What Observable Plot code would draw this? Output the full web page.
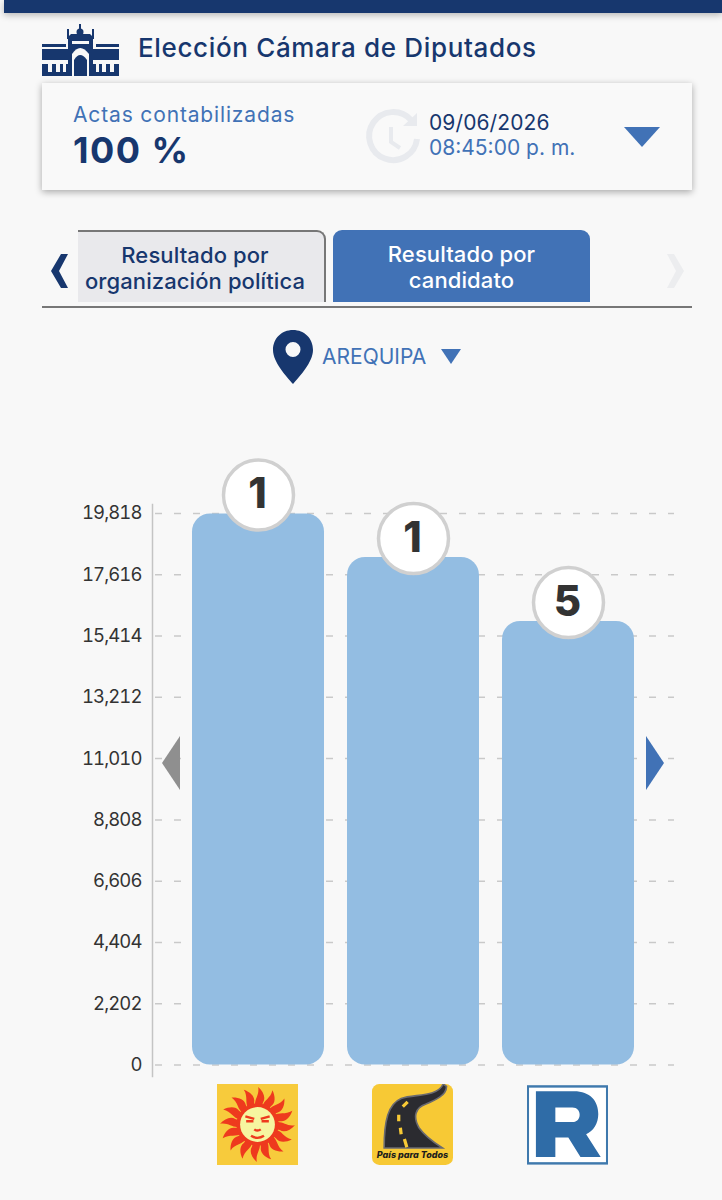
<!DOCTYPE html>
<html lang="es">
<head>
<meta charset="utf-8">
<script src="https://cdn.jsdelivr.net/npm/d3@7"></script>
<script src="https://cdn.jsdelivr.net/npm/@observablehq/plot@0.6"></script>
<style>
html,body{margin:0;padding:0;background:#f8f8f8;}
body{width:722px;height:1200px;position:relative;overflow:hidden;font-family:Inter,"Noto Sans",sans-serif;}
.abs{position:absolute;}
#topbar{left:4px;top:0;width:718px;height:13px;background:#17376e;box-shadow:0 2px 7px rgba(0,0,0,.28);}
#title{left:138px;top:32px;font-size:26px;font-weight:500;color:#17376e;white-space:nowrap;line-height:32px;letter-spacing:.65px;}
#card{left:42px;top:83px;width:650px;height:107px;background:#f9f9f9;box-shadow:0 2px 7px rgba(0,0,0,.33);}
.t{position:absolute;white-space:nowrap;}
.tab{position:absolute;top:230px;height:72px;box-sizing:border-box;text-align:center;font-size:22px;font-weight:500;line-height:26px;padding-top:11px;letter-spacing:.1px;}
#tab1{left:78px;width:248px;background:#e9e9ec;color:#17376e;border-top:2px solid #777;border-right:2px solid #777;border-top-right-radius:9px;padding-top:10px;padding-right:12px;white-space:nowrap;}
#tab2{left:333px;width:257px;background:#4172b6;color:#fff;border-top-left-radius:9px;border-top-right-radius:9px;}
#divider{left:42px;top:306px;width:650px;height:2px;background:#777;}
#chart{left:0;top:440px;}
#chart svg{overflow:visible;display:block;}
#chart g[aria-label="y-axis tick label"] text{letter-spacing:-.9px;}
svg.abs{overflow:visible;}
</style>
</head>
<body>
<div id="topbar" class="abs"></div>
<svg class="abs" style="left:42px;top:24px" width="78" height="52" viewBox="0 0 78 52" fill="#17376e">
  <rect x="0" y="40" width="77" height="12"/><rect x="0" y="25" width="77" height="12"/>
  <rect x="0" y="20" width="24" height="3"/><rect x="54" y="20" width="23" height="3"/>
  <path d="M25 14 L29 10 H48 L52 14Z"/><rect x="37" y="0" width="2" height="7"/><circle cx="38" cy="8" r="3.500"/>
  <rect x="25" y="5" width="2" height="10"/><rect x="50" y="5" width="2" height="10"/>
  <path d="M26 52 V14 H51 V52Z"/>
  <rect x="30" y="17" width="17" height="3" fill="#f8f8f8"/>
  <path d="M30 52 V30 Q38 18 47 30 V52Z" fill="#f8f8f8"/>
  <path d="M32 52 V36 Q38 26 45 36 V52Z"/>
  <g fill="#f8f8f8"><rect x="6" y="39" width="4" height="9"/><rect x="14" y="39" width="4" height="9"/><rect x="21" y="39" width="3" height="9"/><rect x="54" y="39" width="3" height="9"/><rect x="60" y="39" width="4" height="9"/><rect x="68" y="39" width="4" height="9"/><rect x="0" y="36" width="26" height="2"/><rect x="51" y="36" width="26" height="2"/></g>
</svg>
<div id="title" class="abs">Elección Cámara de Diputados</div>
<div id="card" class="abs">
  <div class="t" style="left:31px;top:21px;font-size:21px;color:#4172b6;line-height:22px;letter-spacing:.85px">Actas contabilizadas</div>
  <div class="t" style="left:31px;top:47.500px;font-size:36px;font-weight:700;color:#17376e;line-height:38px;letter-spacing:1.500px">100 %</div>
  <svg class="abs" style="left:325px;top:26px" width="54" height="56" viewBox="0 0 54 56" fill="none" stroke="#e8eaee" stroke-width="6">
    <path d="M44 11 A24 24 0 1 0 50 30"/><path d="M24 18 V33 L33 39" stroke-width="4"/><path d="M36 17 L50 4 V17Z" fill="#e8eaee" stroke="none"/>
  </svg>
  <div class="t" style="left:387px;top:29px;font-size:21px;color:#17376e;line-height:22px;letter-spacing:.1px">09/06/2026</div>
  <div class="t" style="left:387px;top:54px;font-size:21px;color:#4172b6;line-height:22px">08:45:00 p. m.</div>
  <svg class="abs" style="left:582px;top:44px" width="36" height="20"><path d="M0 0H36L18 20Z" fill="#4172b6"/></svg>
</div>
<svg class="abs" style="left:50px;top:254px" width="20" height="34"><path d="M18 0H11L1 17L11 34H18L9 17Z" fill="#17376e"/></svg>
<div id="tab1" class="tab">Resultado por<br>organización política</div>
<div id="tab2" class="tab">Resultado por<br>candidato</div>
<svg class="abs" style="left:665px;top:254px" width="20" height="34"><path d="M2 0H9L19 17L9 34H2L11 17Z" fill="#ecedef"/></svg>
<div id="divider" class="abs"></div>
<svg class="abs" style="left:273px;top:330px" width="40" height="54" viewBox="0 0 40 54"><path fill-rule="evenodd" d="M20 0C8.500 0 0 8.500 0 20C0 32 13 46 20 54C27 46 40 32 40 20C40 8.500 31.500 0 20 0ZM20 12A7.500 7.500 0 1 1 20 27A7.500 7.500 0 1 1 20 12Z" fill="#17376e"/></svg>
<div class="t" style="left:322px;top:344px;font-size:21px;color:#4172b6;line-height:26px">AREQUIPA</div>
<svg class="abs" style="left:441px;top:349px" width="20" height="15"><path d="M0 0H20L10 15Z" fill="#4172b6"/></svg>
<div id="chart" class="abs"></div>
<svg class="abs" style="left:162px;top:736px" width="18" height="54"><path d="M18 0V54L0 27Z" fill="#8f8f8f"/></svg>
<svg class="abs" style="left:646px;top:736px" width="18" height="54"><path d="M0 0V54L18 27Z" fill="#4172b6"/></svg>
<script>
// Chart values
const candidates = ["Sol", "País para Todos", "R"];
const votes = [19800, 18240, 15940];
const preferenceNumbers = ["1", "1", "5"];
const tickValues = [0, 2202, 4404, 6606, 8808, 11010, 13212, 15414, 17616, 19818];

// Party logos
const uri = s => "data:image/svg+xml," + encodeURIComponent(s);
const sunRays = d3.range(16).map(i => {
  const a = i / 16 * 360 + 6;
  return `<path transform="rotate(${a} 50 50)" d="M45 28 C42 20 49 14 46 4 C53 9 57 16 54 22 C53 25 54 27 55 28Z" fill="#ee3a1e"/>`;
}).join("");
const sunLogo = uri(`<svg xmlns="http://www.w3.org/2000/svg" viewBox="0 0 100 100"><rect width="100" height="100" fill="#f7cb3c"/>${sunRays}<circle cx="50" cy="50" r="26" fill="#ee3a1e"/><circle cx="50" cy="50" r="21.500" fill="#f6f5a0"/><path d="M35 40 L46 43 M65 40 L54 43 M36 46 H45 M55 46 H64" stroke="#ee3a1e" stroke-width="3" fill="none"/><path d="M46 56 Q50 59 54 56 M42 64 Q50 69 58 64" stroke="#ee3a1e" stroke-width="3" fill="none"/></svg>`);
const roadLogo = uri(`<svg xmlns="http://www.w3.org/2000/svg" viewBox="0 0 100 100"><rect width="100" height="100" rx="9" fill="#f7c935"/><path d="M15 79 C15 45 20 25 36 18 C52 12 80 17 88 0 L92 3 C92 14 78 20 66 25 C54 29 50 40 58 54 C65 64 76 72 87 79Z" fill="#2b2b30" stroke="#6a6a70" stroke-width="2"/><path d="M44 22 L38 28 M33 38 L33 46 M35 54 L36 62 M40 68 L43 78" stroke="#f7c935" stroke-width="4" fill="none"/></svg>`);
const rLogo = uri(`<svg xmlns="http://www.w3.org/2000/svg" viewBox="0 0 100 100"><rect x="1" y="3" width="98" height="95" fill="#fff" stroke="#3f79ad" stroke-width="3"/><path fill-rule="evenodd" d="M11 9H58C78 9 88 21 88 37C88 49 82 58 73 62L91 90H66L51 66H35V90H11ZM35 29V47H56C62 47 65 43 65 38C65 33 62 29 56 29Z" fill="#2f6ca7"/></svg>`);
const logos = [sunLogo, roadLogo, rLogo];

const rows = candidates.map((c, i) => ({candidate: c, votes: votes[i], number: preferenceNumbers[i], logo: logos[i]}));

const chart = Plot.plot({
  width: 722,
  height: 740,
  marginTop: 64,
  marginBottom: 104,
  marginLeft: 152,
  marginRight: 48,
  style: {background: "transparent", overflow: "visible"},
  x: {type: "band", domain: candidates, range: [168, 657], padding: 0.15, axis: null},
  y: {domain: [0, 19818], range: [624.5, 73], axis: null},
  marks: [
    Plot.gridY(tickValues, {stroke: "#c9c9c9", strokeOpacity: 1, strokeWidth: 1.500, strokeDasharray: "7 12", strokeDashoffset: -3}),
    Plot.frame({anchor: "left", stroke: "#c4c4c4", strokeWidth: 1.500}),
    Plot.axisY(tickValues, {
      anchor: "left", tickSize: 0, tickPadding: 11, tickFormat: d3.format(","),
      fontSize: 18.500, fontFamily: "Inter, sans-serif", fill: "#333", label: null
    }),
    Plot.barY(rows, {x: "candidate", y: "votes", fill: "#93bde2", rx: 18}),
    Plot.dot(rows, {x: "candidate", y: "votes", r: 35, dy: -19, fill: "#fff", stroke: "#d0d0d0", strokeWidth: 3.500}),
    Plot.text(rows, {x: "candidate", y: "votes", text: "number", dy: -19, dx: -1, fontSize: 42, fontWeight: 800, fontFamily: "Inter, sans-serif", fill: "#333"}),
    Plot.image(rows, {x: "candidate", y: () => 0, src: "logo", width: 81, height: 81, dy: 59.500, dx: -1}),
    Plot.text(rows.filter(d => d.candidate === "País para Todos"), {
      x: "candidate", y: () => 0, text: "candidate", dy: 90.500, dx: -1, fontSize: 9, fontWeight: 800, fontStyle: "italic",
      fontFamily: "Inter, sans-serif", fill: "#1c1c1c"
    })
  ]
});
document.getElementById("chart").append(chart);
</script>
</body>
</html>
